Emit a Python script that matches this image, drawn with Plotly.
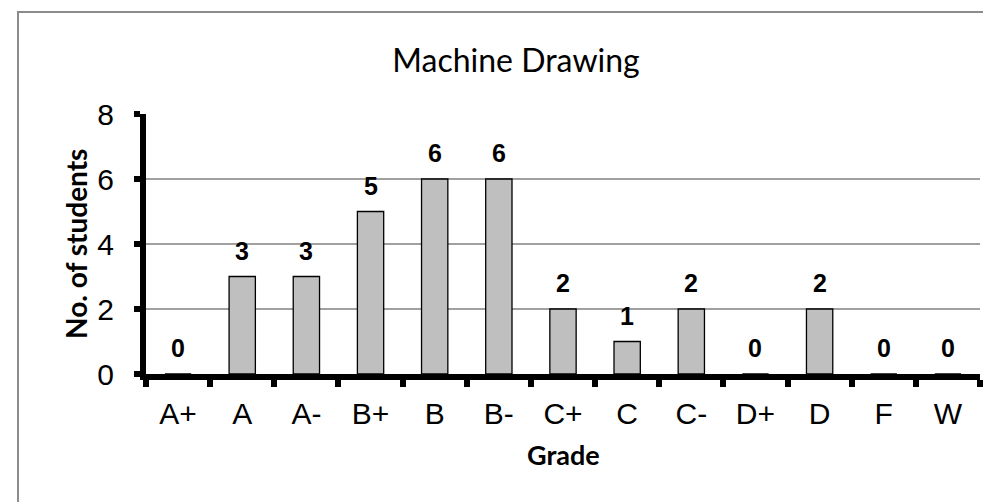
import plotly.graph_objects as go

grades = ["A+", "A", "A-", "B+", "B", "B-", "C+", "C", "C-", "D+", "D", "F", "W"]
students = [0, 3, 3, 5, 6, 6, 2, 1, 2, 0, 2, 0, 0]
y_ticks = [0, 2, 4, 6, 8]

W, H = 991, 502
L, R, T, B = 138, 972, 106, 366
pw, ph = R - L, B - T

def px(x):
    return (x - L) / pw

def py(y):
    return (B - y) / ph

fig = go.Figure()
fig.add_trace(go.Bar(
    x=grades, y=students, width=0.41,
    marker=dict(color="#bfbfbf", line=dict(color="#000000", width=1.3)),
    hoverinfo="skip", showlegend=False,
))

annotations = []
for g, v in zip(grades, students):
    annotations.append(dict(
        x=g, y=v, xref="x", yref="y", text=str(v), showarrow=False,
        yanchor="middle", yshift=26,
        font=dict(family="Liberation Sans, Arial", size=25, color="#000000", weight="bold"),
    ))
annotations.append(dict(
    x=0.5, y=py(446), xref="paper", yref="paper", text="<b>Grade</b>", showarrow=False,
    xanchor="center", yanchor="middle",
    font=dict(family="Lato, Open Sans", size=27, color="#000000"),
))
annotations.append(dict(
    x=px(68), y=0.5, xref="paper", yref="paper", text="<b>No. of students</b>", showarrow=False,
    xanchor="center", yanchor="middle", textangle=-90,
    font=dict(family="Lato, Open Sans", size=28, color="#000000"),
))

fig.update_layout(
    width=W, height=H, autosize=False,
    margin=dict(l=L, r=W - R, t=T, b=H - B, pad=0),
    paper_bgcolor="#ffffff", plot_bgcolor="#ffffff",
    title=dict(text="Machine Drawing", x=508 / W, y=1 - 53 / H, xanchor="center", yanchor="middle",
               font=dict(family="Lato, Open Sans", size=32, color="#000000")),
    annotations=annotations,
    shapes=[dict(type="rect", xref="paper", yref="paper",
                 x0=px(10), x1=px(987), y0=py(500), y1=py(4),
                 line=dict(color="#8c8c8c", width=2), layer="below")],
    bargap=0.59,
)
fig.update_xaxes(
    type="category", range=[-0.5, 12.5], tickson="boundaries",
    showline=True, linecolor="#000000", linewidth=6,
    ticks="outside", ticklen=7, tickwidth=6, tickcolor="#000000",
    tickfont=dict(family="Liberation Sans, Arial", size=30, color="#000000"),
    ticklabelstandoff=8, showgrid=False, zeroline=False, fixedrange=True,
)
fig.update_yaxes(
    range=[0, 8], tickvals=y_ticks, ticktext=[str(t) for t in y_ticks],
    showline=True, linecolor="#000000", linewidth=6,
    ticks="outside", ticklen=6, tickwidth=6, tickcolor="#000000",
    tickfont=dict(family="Liberation Sans, Arial", size=30, color="#000000"),
    ticklabelstandoff=14,
    showgrid=True, gridcolor="#a0a0a0", gridwidth=2, zeroline=False, fixedrange=True,
)

fig.write_html("out.html", config={"displayModeBar": False})
